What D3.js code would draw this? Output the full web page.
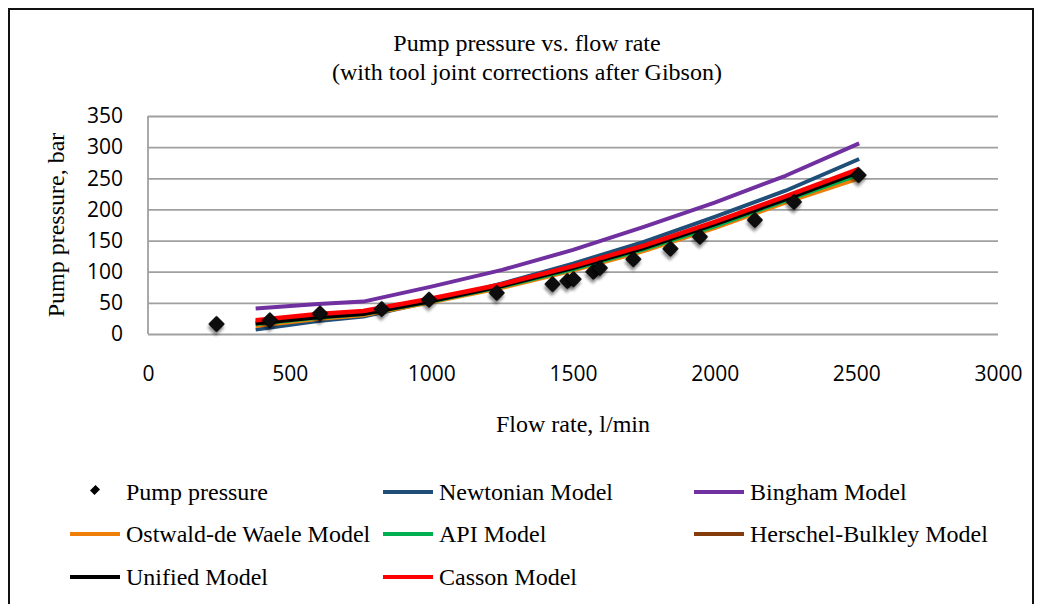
<!DOCTYPE html>
<html>
<head>
<meta charset="utf-8">
<script src="https://cdn.jsdelivr.net/npm/d3@7/dist/d3.min.js"></script>
<style>
  html, body { margin: 0; padding: 0; background: #fff; }
  svg { display: block; }
</style>
</head>
<body>
<svg id="chart" width="1041" height="604"></svg>
<script>
// ---------- data ----------
const titleLines = ["Pump pressure vs. flow rate", "(with tool joint corrections after Gibson)"];
const xTitle = "Flow rate, l/min";
const yTitle = "Pump pressure, bar";
const xTicks = [0, 500, 1000, 1500, 2000, 2500, 3000];
const yTicks = [0, 50, 100, 150, 200, 250, 300, 350];

// measured pump pressure
const measFlow = [242, 430, 607, 825, 992, 1231, 1428, 1480, 1502, 1572, 1595, 1713, 1844, 1948, 2142, 2280, 2508];
const measPress = [16, 22, 33, 40, 55, 66, 80, 85, 88, 100, 106, 120, 137, 156, 183, 212, 255];

// model flow rates
const modelFlow = [380, 600, 760, 1000, 1250, 1500, 1750, 2000, 2250, 2510];
const newtonian = [7, 21, 28, 52, 81, 113, 148, 188, 230, 281];
const bingham   = [41, 48, 52, 76, 103, 135, 172, 211, 254, 306];
const ostwald   = [13, 24, 30, 51, 74, 102, 133, 170, 211, 250];
const api       = [16, 26, 32, 52, 76, 104, 136, 173, 214, 256];
const herschel  = [20, 29, 34, 55, 79, 107, 139, 177, 218, 262];
const unified   = [17, 27, 32, 53, 77, 106, 138, 176, 216, 260];
const casson    = [22, 32, 37, 57, 80, 109, 142, 180, 221, 265];

const seriesNames = ["Newtonian Model", "Bingham Model", "Ostwald-de Waele Model", "API Model",
                     "Herschel-Bulkley Model", "Unified Model", "Casson Model"];
const seriesValues = [newtonian, bingham, ostwald, api, herschel, unified, casson];
const seriesColors = ["#1f4e79", "#7030a0", "#f07f09", "#00b050", "#843c0c", "#000000", "#ff0000"];
const seriesWidths = [4, 4, 4, 4, 4, 4, 4.5];

// ---------- layout ----------
const svg = d3.select("#chart");
const serif = "'Liberation Serif', 'Times New Roman', serif";
const sans = "'Open Sans', 'Liberation Sans', sans-serif";

const plot = { left: 148, right: 998, top: 116, bottom: 334 };
const x = d3.scaleLinear().domain([0, 3000]).range([plot.left, plot.right]);
const y = d3.scaleLinear().domain([0, 350]).range([plot.bottom, plot.top]);

// outer frame
svg.append("path")
  .attr("d", "M9,604 L9,9 L1033,9 L1033,604")
  .attr("fill", "none").attr("stroke", "#111").attr("stroke-width", 2);

// defs: shadow
const defs = svg.append("defs");
const f = defs.append("filter").attr("id", "shadow").attr("x", "-50%").attr("y", "-50%")
  .attr("width", "200%").attr("height", "200%");
f.append("feDropShadow").attr("dx", 2).attr("dy", 3).attr("stdDeviation", 1.6)
  .attr("flood-color", "#000").attr("flood-opacity", 0.45);

// title
svg.append("text")
  .attr("x", 527).attr("y", 51)
  .attr("text-anchor", "middle")
  .attr("font-family", serif).attr("font-size", 24).attr("fill", "#000")
  .text(titleLines[0]);
svg.append("text")
  .attr("x", 527).attr("y", 80)
  .attr("text-anchor", "middle")
  .attr("font-family", serif).attr("font-size", 24).attr("fill", "#000")
  .text(titleLines[1]);

// gridlines
svg.append("g")
  .attr("transform", `translate(0,0)`)
  .call(d3.axisLeft(y).tickValues(yTicks).tickSize(-(plot.right - plot.left)).tickFormat(""))
  .attr("transform", `translate(${plot.left},0)`)
  .call(g => g.select(".domain").remove())
  .call(g => g.selectAll("line").attr("stroke", "#a0a0a0").attr("stroke-width", 1.8));

// y axis line
svg.append("line")
  .attr("x1", plot.left).attr("x2", plot.left)
  .attr("y1", plot.top).attr("y2", plot.bottom)
  .attr("stroke", "#a0a0a0").attr("stroke-width", 1.8);

// y tick labels
const yAxis = svg.append("g")
  .attr("transform", `translate(${plot.left},0)`)
  .call(d3.axisLeft(y).tickValues(yTicks).tickSize(0).tickPadding(25).tickFormat(d3.format("d")));
yAxis.select(".domain").remove();
yAxis.selectAll("text").attr("font-family", sans).attr("font-size", 21).attr("fill", "#000");

// x tick labels
const xAxis = svg.append("g")
  .attr("transform", `translate(0,${plot.bottom})`)
  .call(d3.axisBottom(x).tickValues(xTicks).tickSize(0).tickPadding(32).tickFormat(d3.format("d")));
xAxis.select(".domain").remove();
xAxis.selectAll("text").attr("font-family", sans).attr("font-size", 21).attr("fill", "#000");

// axis titles
svg.append("text")
  .attr("x", 573).attr("y", 432)
  .attr("text-anchor", "middle")
  .attr("font-family", serif).attr("font-size", 24).attr("fill", "#000")
  .text(xTitle);
svg.append("text")
  .attr("transform", "translate(64,225) rotate(-90)")
  .attr("text-anchor", "middle")
  .attr("font-family", serif).attr("font-size", 24).attr("fill", "#000")
  .text(yTitle);

// model lines
const line = d3.line().x(d => x(d[0])).y(d => y(d[1]));
const linesG = svg.append("g");
seriesValues.forEach((vals, i) => {
  const pts = modelFlow.map((fl, j) => [fl, vals[j]]);
  linesG.append("path")
    .attr("d", line(pts))
    .attr("fill", "none")
    .attr("stroke", seriesColors[i])
    .attr("stroke-width", seriesWidths[i])
    .attr("stroke-linejoin", "round");
});

// measured points
const diamond = d3.symbol().type(d3.symbolSquare).size(115);
svg.append("g")
  .selectAll("path")
  .data(measFlow.map((fl, i) => [fl, measPress[i]]))
  .join("path")
  .attr("d", diamond)
  .attr("transform", d => `translate(${x(d[0])},${y(d[1])}) rotate(45)`)
  .attr("fill", "#111")
  .attr("stroke", "#000")
  .attr("stroke-width", 1)
  .attr("filter", "url(#shadow)");

// legend
const legendItems = [
  { name: "Pump pressure", type: "marker", x: 70, y: 492 },
  { name: seriesNames[0], color: seriesColors[0], x: 383, y: 492 },
  { name: seriesNames[1], color: seriesColors[1], x: 694, y: 492 },
  { name: seriesNames[2], color: seriesColors[2], x: 70, y: 534 },
  { name: seriesNames[3], color: seriesColors[3], x: 383, y: 534 },
  { name: seriesNames[4], color: seriesColors[4], x: 694, y: 534 },
  { name: seriesNames[5], color: seriesColors[5], x: 70, y: 577 },
  { name: seriesNames[6], color: seriesColors[6], x: 383, y: 577 }
];
const lg = svg.append("g");
legendItems.forEach(it => {
  if (it.type === "marker") {
    lg.append("path")
      .attr("d", d3.symbol().type(d3.symbolSquare).size(50)())
      .attr("transform", `translate(${it.x + 25},${it.y - 2}) rotate(45) scale(0.9,1.1)`)
      .attr("fill", "#000");
  } else {
    lg.append("line")
      .attr("x1", it.x).attr("x2", it.x + 50)
      .attr("y1", it.y).attr("y2", it.y)
      .attr("stroke", it.color).attr("stroke-width", 4);
  }
  lg.append("text")
    .attr("x", it.x + 56).attr("y", it.y + 8)
    .attr("font-family", serif).attr("font-size", 24).attr("fill", "#000")
    .text(it.name);
});
</script>
</body>
</html>
